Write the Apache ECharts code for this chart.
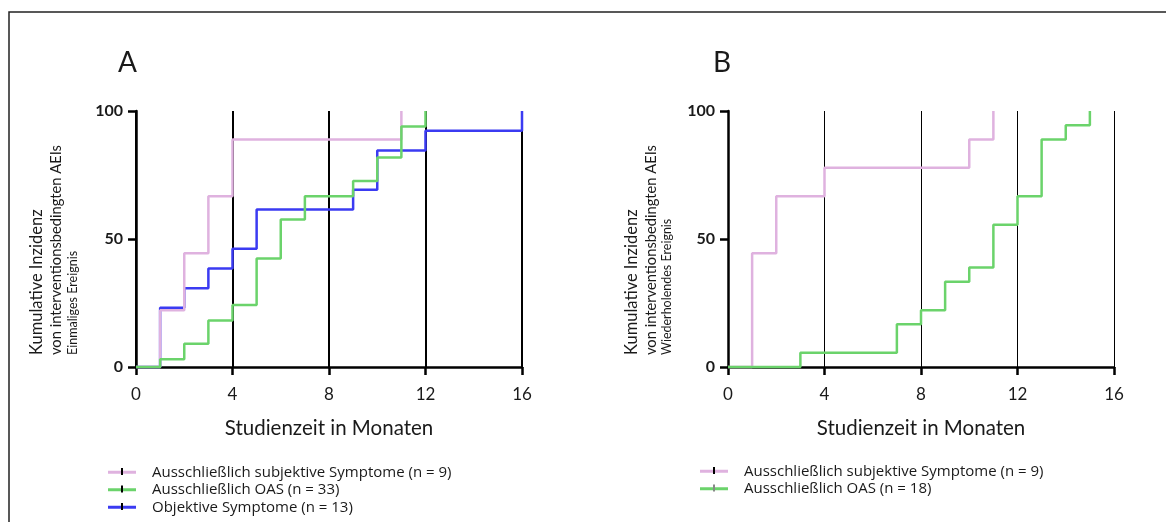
<!DOCTYPE html>
<html>
<head>
<meta charset="utf-8">
<title>Kumulative Inzidenz interventionsbedingter AEIs</title>
<script src="https://cdn.jsdelivr.net/npm/echarts@6/dist/echarts.min.js"></script>
<style>
html, body, #main { width: 100%; height: 100%; margin: 0; background: #fff; }
</style>
</head>
<body>
<div id="main"></div>
<script>
// Achsen
var monthMin = 0, monthMax = 16, monthStep = 4;
var pctMin = 0, pctMax = 100, pctStep = 50;

// Serien-Namen
var nameSubj = 'Ausschließlich subjektive Symptome (n = 9)';
var nameOasA = 'Ausschließlich OAS (n = 33)';
var nameObj = 'Objektive Symptome (n = 13)';
var nameOasB = 'Ausschließlich OAS (n = 18)';

// A: Einmaliges Ereignis  [Monat, kumulative Inzidenz %]
var subjA = [[0, 0], [1, 22.2], [2, 44.4], [3, 66.7], [4, 88.9], [11, 100]];
var oasA = [[0, 0], [1, 3.0], [2, 9.1], [3, 18.2], [4, 24.2], [5, 42.4], [6, 57.6], [7, 66.7], [9, 72.7], [10, 81.8], [11, 93.9], [12, 100]];
var objA = [[0, 0], [1, 23.1], [2, 30.8], [3, 38.5], [4, 46.2], [5, 61.5], [9, 69.2], [10, 84.6], [12, 92.3], [16, 100]];

// B: Wiederholendes Ereignis
var subjB = [[0, 0], [1, 44.4], [2, 66.7], [4, 77.8], [10, 88.9], [11, 100]];
var oasB = [[0, 0], [3, 5.6], [7, 16.7], [8, 22.2], [9, 33.3], [10, 38.9], [11, 55.6], [12, 66.7], [13, 88.9], [14, 94.4], [15, 100]];

var PINK = '#dfb2df', GREEN = '#6bd36b', BLUE = '#3b3bf2';
var FONT = 'Lato';
var LEGEND_FONT = 'Open Sans';
var TXT = '#1a1a1a';

var myChart = echarts.init(document.getElementById('main'));

function xAxisFor(idx, gridWidth) {
    return {
        type: 'value', gridIndex: idx,
        min: monthMin, max: monthMax, interval: monthStep,
        name: 'Studienzeit in Monaten', nameLocation: 'middle', nameGap: 51,
        nameTextStyle: { fontFamily: FONT, fontSize: 20.5, color: TXT },
        axisLine: { show: true, lineStyle: { color: '#000', width: 2.5 } },
        axisTick: { show: true, inside: false, length: 8, lineStyle: { color: '#000', width: 2.5 } },
        axisLabel: { fontFamily: FONT, fontSize: 17, color: TXT, margin: 19 },
        splitLine: { show: true, lineStyle: { color: '#000', width: gridWidth } }
    };
}
function yAxisFor(idx) {
    return {
        type: 'value', gridIndex: idx,
        min: pctMin, max: pctMax, interval: pctStep,
        axisLine: { show: true, lineStyle: { color: '#000', width: 2.5 } },
        axisTick: { show: true, inside: false, length: 8, lineStyle: { color: '#000', width: 2.5 } },
        axisLabel: { fontFamily: FONT, fontSize: 16, fontWeight: 'bold', color: TXT, margin: 13 },
        splitLine: { show: false }
    };
}
function stepSeries(name, data, color, idx) {
    return {
        name: name, type: 'line', step: 'end', data: data,
        xAxisIndex: idx, yAxisIndex: idx,
        showSymbol: false, symbol: 'none', clip: false,
        itemStyle: { color: color },
        lineStyle: { color: color, width: 2.5 }
    };
}
function yTitle(x, lines) {
    // drei gedrehte Zeilen, unten bündig
    return lines.map(function (l, i) {
        return {
            type: 'text', x: x[i], y: 355, rotation: Math.PI / 2, silent: true,
            style: { text: l.t, fill: TXT, font: l.s + 'px ' + FONT, textAlign: 'left', verticalAlign: 'middle' }
        };
    });
}
function legendTick(x, y, color) {
    return { type: 'rect', shape: { x: x, y: y - 4, width: 2, height: 7 }, style: { fill: color }, silent: true, z: 200 };
}

var graphics = [
    { type: 'rect', shape: { x: 9, y: 12, width: 1170, height: 520 }, style: { fill: 'none', stroke: '#222', lineWidth: 1.5 }, silent: true }
];
graphics = graphics.concat(yTitle([37, 56, 73], [
    { t: 'Kumulative Inzidenz', s: 16.5 },
    { t: 'von interventionsbedingten AEIs', s: 14.7 },
    { t: 'Einmaliges Ereignis', s: 12.5 }
]));
graphics = graphics.concat(yTitle([632, 651, 667], [
    { t: 'Kumulative Inzidenz', s: 16.5 },
    { t: 'von interventionsbedingten AEIs', s: 14.7 },
    { t: 'Wiederholendes Ereignis', s: 12.5 }
]));
graphics.push(legendTick(121, 472, '#000'), legendTick(121, 489.5, '#000'), legendTick(121, 507, '#000'));
graphics.push(legendTick(713, 471, '#000'), legendTick(713, 488.5, '#888'));

var legendText = { fontFamily: LEGEND_FONT, fontSize: 15, color: TXT, lineHeight: 17.5, padding: [0, 0, 0, 11] };

var option = {
    animation: false,
    title: [
        { text: 'A', left: 118, top: 49, padding: 0, textStyle: { fontFamily: FONT, fontSize: 28, fontWeight: 'normal', color: TXT } },
        { text: 'B', left: 713, top: 49, padding: 0, textStyle: { fontFamily: FONT, fontSize: 28, fontWeight: 'normal', color: TXT } }
    ],
    grid: [
        { left: 136, top: 111, width: 386, height: 256 },
        { left: 728, top: 111, width: 386, height: 256 }
    ],
    xAxis: [xAxisFor(0, 2), xAxisFor(1, 1)],
    yAxis: [yAxisFor(0), yAxisFor(1)],
    legend: [
        {
            orient: 'vertical', left: 108, top: 463.5, padding: 0, itemGap: 0,
            itemWidth: 28, itemHeight: 3, icon: 'rect', selectedMode: false,
            data: [nameSubj, nameOasA, nameObj],
            textStyle: legendText
        },
        {
            orient: 'vertical', left: 700, top: 462.5, padding: 0, itemGap: 0,
            itemWidth: 28, itemHeight: 3, icon: 'rect', selectedMode: false,
            data: [nameSubj, nameOasB],
            textStyle: legendText
        }
    ],
    graphic: graphics,
    series: [
        stepSeries(nameObj, objA, BLUE, 0),
        stepSeries(nameSubj, subjA, PINK, 0),
        stepSeries(nameOasA, oasA, GREEN, 0),
        stepSeries(nameSubj, subjB, PINK, 1),
        stepSeries(nameOasB, oasB, GREEN, 1)
    ]
};
myChart.setOption(option);
window.onresize = myChart.resize;
</script>
</body>
</html>
